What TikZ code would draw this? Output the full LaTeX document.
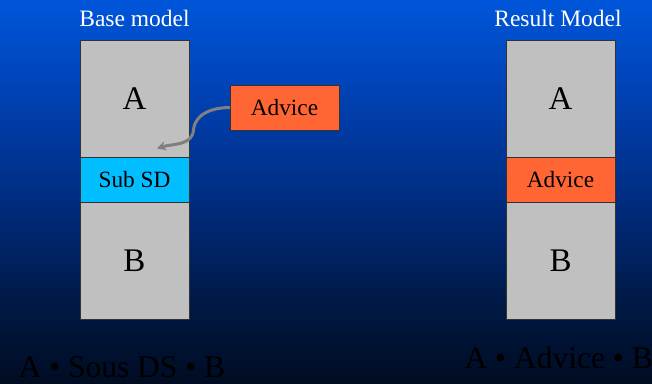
\documentclass[tikz,border=0pt]{standalone}
\usepackage{fontspec}
\setmainfont{Liberation Serif}
\usetikzlibrary{arrows.meta}

\definecolor{bgtop}{RGB}{0,86,218}
\definecolor{bgupper}{RGB}{0,66,180}
\definecolor{bgmid}{RGB}{0,46,132}
\definecolor{bglow}{RGB}{0,26,72}
\definecolor{bgbot}{RGB}{0,12,34}
\definecolor{blockgray}{RGB}{192,192,192}
\definecolor{subcyan}{RGB}{0,190,255}
\definecolor{adviceorange}{RGB}{255,102,51}
\definecolor{edgegray}{RGB}{50,50,50}
\definecolor{arrowgray}{RGB}{128,128,128}

% vertical background ramp; the path's box maps to 25bp (bottom) .. 75bp (top)
\pgfdeclareverticalshading{slidebg}{100bp}{%
  color(0bp)=(bgbot); color(25bp)=(bgbot); color(36bp)=(bglow);
  color(50bp)=(bgmid); color(63bp)=(bgupper); color(75bp)=(bgtop); color(100bp)=(bgtop)}

\tikzset{
  block/.style={draw=edgegray, line width=0.9pt, minimum width=109pt, inner sep=0pt, outer sep=0pt},
  bigletter/.style={font=\fontsize{33}{36}\selectfont},
  midlabel/.style={font=\fontsize{23.3}{27}\selectfont},
  title/.style={text=white, font=\fontsize{23.5}{27}\selectfont, anchor=base},
  formula/.style={text=black, font=\fontsize{31.5}{36}\selectfont, anchor=base west},
}

\begin{document}
\begin{tikzpicture}[x=1pt, y=-1pt]
  \useasboundingbox (0,0) rectangle (652,383);
  \shade[shading=slidebg] (0,0) rectangle (652,383);

  % left column: base model
  \node[title] (basetitle) at (134.5,26) {Base model};
  \node[block, fill=blockgray, minimum height=117pt] (la) at (134.5,98.5) {};
  \node[block, fill=subcyan, minimum height=45pt, midlabel] (lsub) at (134.5,179.5) {Sub SD};
  \node[block, fill=blockgray, minimum height=117pt] (lb) at (134.5,260.5) {};
  \node[bigletter] (latext) at (la.center) {A};
  \node[bigletter] (lbtext) at (lb.center) {B};

  % advice to be woven in
  \node[block, fill=adviceorange, minimum height=45pt, midlabel] (adv) at (284.5,107.5) {Advice};
  \coordinate (weave) at (157,148.5);
  \draw[arrowgray, line width=3pt, -{Stealth[length=9pt, width=9.5pt, inset=3pt]}]
    (adv.west) to[out=180, in=85] (193.5,130) to[out=-95, in=18] (weave);

  % right column: result model
  \node[title] (restitle) at (558,26) {Result Model};
  \node[block, fill=blockgray, minimum height=117pt] (ra) at (560.5,98.5) {};
  \node[block, fill=adviceorange, minimum height=45pt, midlabel] (radv) at (560.5,179.5) {Advice};
  \node[block, fill=blockgray, minimum height=117pt] (rb) at (560.5,260.5) {};
  \node[bigletter] (ratext) at (ra.center) {A};
  \node[bigletter] (rbtext) at (rb.center) {B};

  % composition formulas
  \node[formula] (lform) at (15,377) {A • Sous DS • B};
  \node[formula] (rform) at (461,368.5) {A • Advice • B};
\end{tikzpicture}
\end{document}
